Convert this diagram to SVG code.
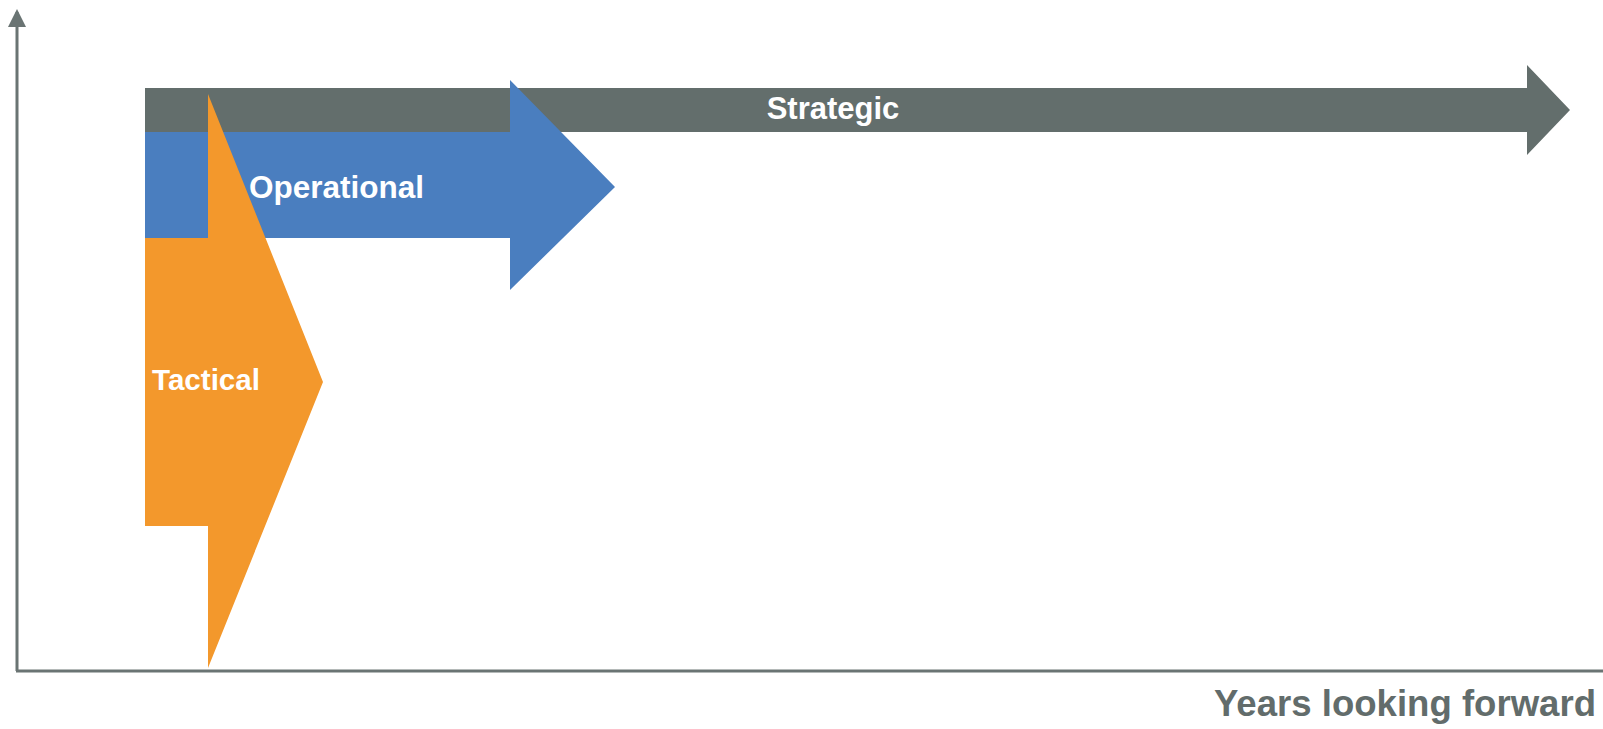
<svg xmlns="http://www.w3.org/2000/svg" width="1603" height="729" viewBox="0 0 1603 729">
<style>
.lbl{font-family:"Liberation Sans",Arial,sans-serif;font-weight:bold;fill:#ffffff}
.axis{stroke:#6a7473;stroke-width:3;fill:none}
</style>
<defs>
<marker id="ah" markerWidth="6" markerHeight="6" refX="5" refY="3" orient="auto" markerUnits="strokeWidth">
<path d="M0,0 L6,3 L0,6 Z" fill="#6a7473"/>
</marker>
</defs>
<rect width="1603" height="729" fill="#ffffff"/>
<g id="connectors">
<path class="axis" d="M17,671 L17,12" marker-end="url(#ah)"/>
<path class="axis" d="M16,671 L1603,671"/>
</g>
<g id="strategic">
<polygon points="145,88 1527,88 1527,65 1570,110 1527,155 1527,132 145,132" fill="#636e6c"/>
<text class="lbl" x="833" y="119" font-size="31" text-anchor="middle">Strategic</text>
</g>
<g id="operational">
<polygon points="145,132 510,132 510,80 615,187 510,290 510,238 145,238" fill="#4a7ebf"/>
<text class="lbl" x="249" y="198" font-size="31.5">Operational</text>
</g>
<g id="tactical">
<polygon points="145,238 208,238 208,94 323,382 208,668 208,526 145,526" fill="#f3982c"/>
<text class="lbl" x="152" y="390" font-size="30" textLength="108" lengthAdjust="spacingAndGlyphs">Tactical</text>
</g>
<g id="xlabel">
<text x="1214" y="716" font-size="37" textLength="382" lengthAdjust="spacingAndGlyphs" font-family="'Liberation Sans',Arial,sans-serif" font-weight="bold" fill="#626c6b">Years looking forward</text>
</g>
</svg>
